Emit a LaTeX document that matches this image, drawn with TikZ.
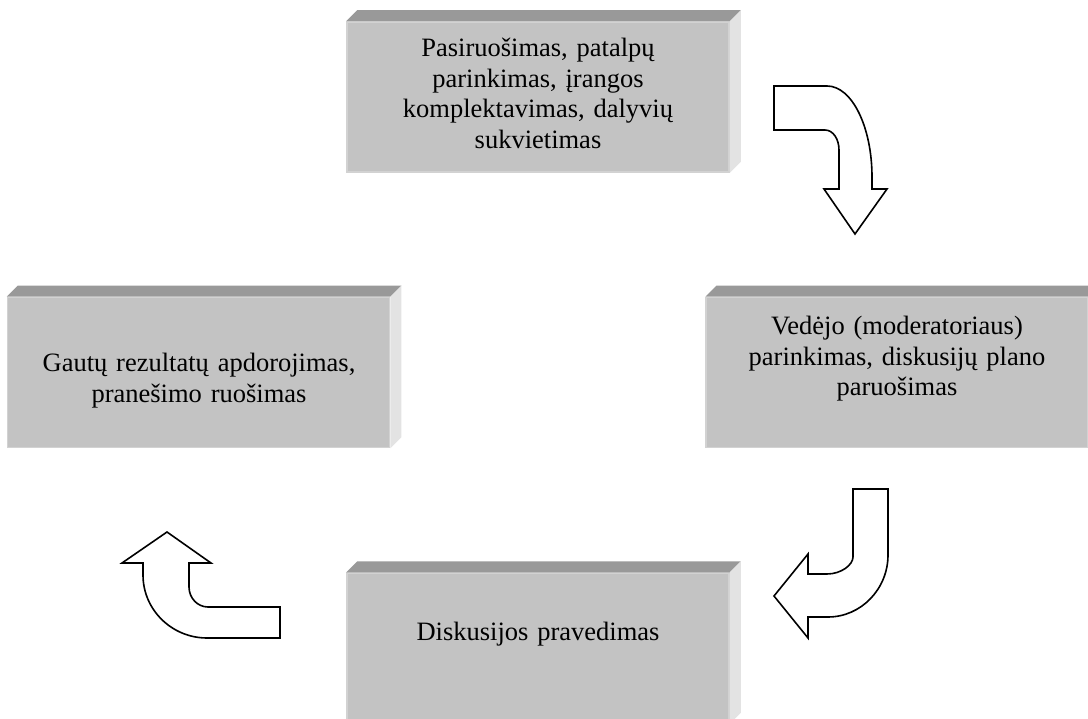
\documentclass[tikz,border=0pt]{standalone}
\usepackage{fontspec}
\setmainfont{Liberation Serif}
\usetikzlibrary{calc}

\definecolor{slabfront}{HTML}{C3C3C3}
\definecolor{slabtop}{HTML}{999999}
\definecolor{slabside}{HTML}{E3E3E3}
\definecolor{slabedge}{HTML}{D2D2D2}

\tikzset{
  x=1pt, y=-1pt,
  slab/.style={rectangle, fill=slabfront, draw=slabedge, line width=1.5pt,
    minimum width=382pt, minimum height=150pt, inner sep=0pt},
  slabtext/.style={anchor=base, align=center, text width=370pt, inner sep=0pt,
    font=\fontsize{26.5}{30.4}\selectfont},
  bentarrow/.style={fill=white, draw=black, line width=1.6pt, line join=miter},
}

% Bevelled top and side faces of a slab node
\newcommand{\slabfaces}[1]{%
  \fill[slabtop] (#1.north west) -- ++(11,-11) -- ($(#1.north east)+(11,-11)$)
    -- (#1.north east) -- cycle;
  \fill[slabside] (#1.north east) -- ++(11,-11) -- ($(#1.south east)+(11,-11)$)
    -- (#1.south east) -- cycle;
}

\begin{document}
\begin{tikzpicture}
\useasboundingbox (0,0) rectangle (1088,719);
\clip (0,0) rectangle (1088,719);
\fill[white] (0,0) rectangle (1088,719);

% Process steps
\node[slab] (prep) at (538,97) {};
\node[slab] (moder) at (897,372.5) {};
\node[slab] (results) at (198.5,372.5) {};
\node[slab] (discuss) at (538,648) {};
\slabfaces{prep}
\slabfaces{moder}
\slabfaces{results}
\slabfaces{discuss}

\node[slabtext] (preptext) at (538,57)
  {Pasiruošimas, patalpų\\parinkimas, įrangos\\komplektavimas, dalyvių\\sukvietimas};
\node[slabtext] (modertext) at (897,335)
  {Vedėjo (moderatoriaus)\\parinkimas, diskusijų plano\\paruošimas};
\node[slabtext] (resultstext) at (199,372)
  {Gautų rezultatų apdorojimas,\\pranešimo ruošimas};
\node[slabtext] (discusstext) at (538,640)
  {Diskusijos pravedimas};

% Bent arrow: from preparation down to moderator
\draw[bentarrow] (774,86) -- (827,86)
  .. controls (852,86) and (872,127) .. (872,177)
  -- (872,189) -- (887,189) -- (855,234) -- (824,189) -- (839,189) -- (839,150)
  .. controls (839,139) and (833,130) .. (825,130)
  -- (774,130) -- cycle;

% Bent arrow: from moderator to discussion
\draw[bentarrow] (853,489) -- (888,489) -- (888,555)
  .. controls (888,589) and (861,617) .. (828,617)
  -- (808,617) -- (808,638) -- (774,596) -- (808,554) -- (808,574) -- (827,574)
  .. controls (841,574) and (853,565) .. (853,557)
  -- cycle;

% Bent arrow: from discussion up to results
\draw[bentarrow] (167,532) -- (211,563) -- (189,563) -- (189,587)
  .. controls (189,598) and (197.5,607) .. (208,607)
  -- (280,607) -- (280,638) -- (207,638)
  .. controls (172,638) and (143,610) .. (143,575)
  -- (143,563) -- (122,563) -- cycle;
\end{tikzpicture}
\end{document}
